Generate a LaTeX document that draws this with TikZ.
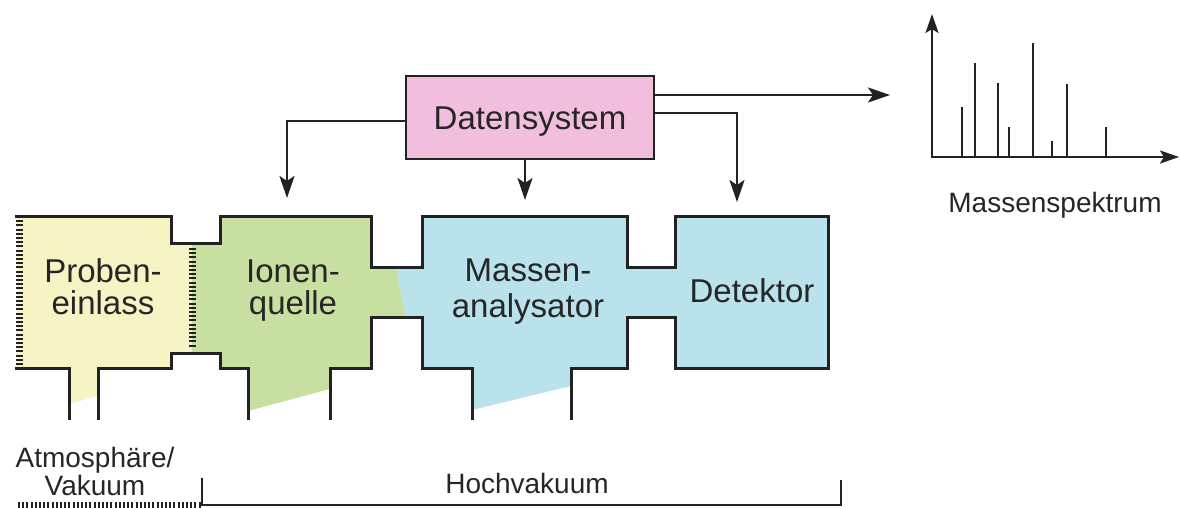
\documentclass[tikz,border=0pt]{standalone}
\usepackage{fontspec}
\setmainfont{Liberation Sans}
\usetikzlibrary{arrows.meta, positioning}

\definecolor{inletyellow}{RGB}{246,244,196}
\definecolor{sourcegreen}{RGB}{199,224,162}
\definecolor{analyzerblue}{RGB}{185,226,236}
\definecolor{datapink}{RGB}{241,191,221}
\definecolor{wallgray}{RGB}{34,34,34}

\begin{document}
\begin{tikzpicture}[
    x=1pt, y=-1pt,
    wall/.style={line width=3pt, draw=wallgray},
    porous/.style={line width=7pt, draw=wallgray, dash pattern=on 2pt off 2.2pt},
    bracket/.style={line width=2pt, draw=wallgray},
    databox/.style={rectangle, draw=wallgray, line width=2.6pt, fill=datapink, minimum width=248pt, minimum height=83pt, text height=24pt, text depth=0pt, font=\fontsize{33}{33}\selectfont, text=black!85},
    chamber/.style={align=center, inner sep=0pt, font=\fontsize{33}{32}\selectfont, text=black!85},
    caption/.style={align=center, inner sep=0pt, font=\fontsize{28}{28}\selectfont, text=black!85},
    arrow/.style={line width=2.2pt, draw=wallgray, -{Stealth[length=22pt, width=15pt, inset=5pt]}},
    peak/.style={line width=2.5pt, draw=wallgray}
]
\useasboundingbox (0,0) rectangle (1180,508);

% chamber fills
\fill[inletyellow] (17,216) -- (171,216) -- (171,243) -- (192,243) -- (192,353) -- (171,353) -- (171,368) -- (98,368) -- (98,396) -- (69,404) -- (69,368) -- (17,368) -- cycle;
\fill[sourcegreen] (192,243) -- (220,243) -- (220,216) -- (371,216) -- (371,267) -- (396,267) -- (406,317) -- (371,317) -- (371,368) -- (330,368) -- (330,389) -- (248,411) -- (248,368) -- (220,368) -- (220,353) -- (192,353) -- cycle;
\fill[analyzerblue] (396,267) -- (422,267) -- (422,216) -- (627,216) -- (627,267) -- (675,267) -- (675,216) -- (828,216) -- (828,368) -- (675,368) -- (675,317) -- (627,317) -- (627,368) -- (571,368) -- (571,386) -- (472,410) -- (472,368) -- (422,368) -- (422,317) -- (406,317) -- cycle;

% walls and pump ports
\draw[wall] (15,216) -- (171,216) -- (171,243) -- (220,243) -- (220,216) -- (371,216) -- (371,267) -- (422,267) -- (422,216) -- (627,216) -- (627,267) -- (675,267) -- (675,216) -- (828,216) -- (828,368) -- (675,368) -- (675,317) -- (627,317) -- (627,368) -- (571,368) -- (571,420);
\draw[wall] (472,420) -- (472,368) -- (422,368) -- (422,317) -- (371,317) -- (371,368) -- (330,368) -- (330,420);
\draw[wall] (248,420) -- (248,368) -- (220,368) -- (220,353) -- (171,353) -- (171,368) -- (98,368) -- (98,420);
\draw[wall] (69,420) -- (69,368) -- (15,368);
\draw[porous] (19,216) -- (19,368);
\draw[porous] (192,248) -- (192,348);

\node (inlet) [chamber] at (103,287) {Proben-\\einlass};
\node (source) [chamber] at (293,290.5) {Ionen-\\quelle};
\node (analyzer) [chamber] at (528,291.5) {Massen-\\[4pt]analysator};
\node (detector) [chamber, anchor=base] at (752,302) {Detektor};

% data system and control lines
\node (datasys) [databox] at (530,117.5) {Datensystem};
\coordinate (ionin) at (287,198);
\coordinate (massin) at (525,200);
\coordinate (detin) at (737,202);
\coordinate (specin) at (890,95);

\draw [arrow] ([yshift=-3.5pt]datasys.west) -| (ionin);
\draw [arrow] ([xshift=-5pt]datasys.south) -- (massin);
\draw [arrow] ([yshift=4.5pt]datasys.east) -| (detin);
\draw [arrow] ([yshift=22.5pt]datasys.east) -- (specin);

% spectrum
\draw [line width=2.2pt, draw=wallgray, {Stealth[length=19pt, width=13pt, inset=4pt]}-{Stealth[length=19pt, width=13pt, inset=4pt]}] (932,14) |- (1179,157);
\draw [peak] (962,157) -- (962,107) (975,157) -- (975,63) (998,157) -- (998,83) (1009,157) -- (1009,127)
  (1033,157) -- (1033,43) (1052,157) -- (1052,141) (1067,157) -- (1067,84) (1106,157) -- (1106,127);
\node (spectrum) [caption, anchor=base] at (1055,212) {Massenspektrum};

% pressure regions
\node (atmo) [caption] at (95,471) {Atmosphäre/\\Vakuum};
\node (highvac) [caption, anchor=base] at (527,493) {Hochvakuum};
\draw [porous, line width=6pt] (18,505) -- (202,505);
\draw [bracket] (202,478) -- (202,505) -- (841,505) -- (841,480);
\end{tikzpicture}
\end{document}
